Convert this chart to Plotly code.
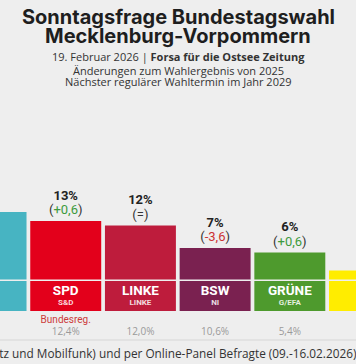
import plotly.graph_objects as go

# ---- data ----
parties = ["CDU", "SPD", "LINKE", "BSW", "GRÜNE", "FDP"]
eu_groups = ["EVP", "S&D", "LINKE", "NI", "G/EFA", "Renew"]
values = [15, 13, 12, 7, 6, 2]
changes = ["-2,8", "+0,6", "=", "-3,6", "+0,6", "-0,7"]
previous = ["17,8%", "12,4%", "12,0%", "10,6%", "5,4%", "2,7%"]
government = ["Bundesreg.", "Bundesreg.", "", "", "", ""]
colors = ["#47b4c2", "#e3001b", "#be1c3c", "#7a2150", "#4e9a2d", "#ffed00"]
name_colors = ["#ffffff", "#ffffff", "#ffffff", "#ffffff", "#ffffff", "#1a1a1a"]
group_colors = ["rgba(255,255,255,0.85)"] * 5 + ["rgba(0,0,0,0.8)"]

title_lines = ["Sonntagsfrage Bundestagswahl", "Mecklenburg-Vorpommern"]
subtitle_lines = [
    "19. Februar 2026 | <b>Forsa für die Ostsee Zeitung</b>",
    "Änderungen zum Wahlergebnis von 2025",
    "Nächster regulärer Wahltermin im Jahr 2029",
]
footnote = "1.004 telefonisch (Festnetz und Mobilfunk) und per Online-Panel Befragte (09.-16.02.2026)"

# ---- layout constants ----
W, H = 356, 364
PX_PER_UNIT = 4.5
ZERO_PX = 279.5  # pixel row of the bar baseline
def px_to_y(px):
    return (ZERO_PX - px) / PX_PER_UNIT

x = list(range(len(parties)))

def change_text(c):
    if c.startswith("+"):
        return "(<span style='color:#3d9a3d'>%s</span>)" % c
    if c.startswith("-"):
        return "(<span style='color:#cc3333'>%s</span>)" % c
    return "(%s)" % c

fig = go.Figure()

# main bars
fig.add_trace(go.Bar(
    x=x, y=values, base=0, width=0.95,
    marker=dict(color=colors, line=dict(width=0)),
    hoverinfo="skip",
))
# label boxes below baseline
box_top = px_to_y(281)
box_bottom = px_to_y(311)
fig.add_trace(go.Bar(
    x=x, y=[box_bottom - box_top] * len(x), base=[box_top] * len(x), width=0.95,
    marker=dict(color=colors, line=dict(width=0)),
    hoverinfo="skip",
))

def text_trace(ys, texts, size, color, family="Roboto"):
    fig.add_trace(go.Scatter(
        x=x, y=ys, text=texts, mode="text", textposition="middle center",
        textfont=dict(size=size, color=color, family=family),
        cliponaxis=False, hoverinfo="skip",
    ))

pct_off = 24.5 / PX_PER_UNIT
chg_off = 10 / PX_PER_UNIT
text_trace([v + pct_off for v in values], ["<b>%d%%</b>" % v for v in values], 13, "#222222")
text_trace([v + chg_off for v in values], [change_text(c) for c in changes], 13, "#333333")
text_trace([px_to_y(292)] * len(x), ["<b>%s</b>" % p for p in parties], 13.5, name_colors)
text_trace([px_to_y(303)] * len(x), ["<b>%s</b>" % g for g in eu_groups], 8, group_colors)
text_trace([px_to_y(320)] * len(x), government, 10, "#cc3b3b")
text_trace([px_to_y(332)] * len(x), previous, 10, "#9a9a9a", "Open Sans")

annotations = []
for t, ypx in zip(title_lines, [17, 36]):
    annotations.append(dict(
        text="<b>%s</b>" % t, x=0.5, y=1 - ypx / H, xref="paper", yref="paper",
        xanchor="center", yanchor="middle", showarrow=False,
        font=dict(size=20, color="#1e1e1e", family="Inter"),
    ))
for t, ypx in zip(subtitle_lines, [56, 70, 82]):
    annotations.append(dict(
        text=t, x=0.5, y=1 - ypx / H, xref="paper", yref="paper",
        xanchor="center", yanchor="middle", showarrow=False,
        font=dict(size=11, color="#333333", family="Open Sans"),
    ))
annotations.append(dict(
    text=footnote, x=1.005, y=1 - 353 / H, xref="paper", yref="paper",
    xanchor="right", yanchor="middle", showarrow=False,
    font=dict(size=11.8, color="#333333", family="Open Sans"),
))

fig.update_layout(
    width=W, height=H,
    margin=dict(l=0, r=0, t=0, b=0),
    paper_bgcolor="#eeeeee", plot_bgcolor="#eeeeee",
    barmode="overlay", showlegend=False,
    xaxis=dict(range=[0.12, 4.886], visible=False, fixedrange=True),
    yaxis=dict(range=[px_to_y(H), px_to_y(0)], visible=False, fixedrange=True),
    annotations=annotations,
    shapes=[dict(type="line", xref="paper", yref="paper", x0=0, x1=1,
                 y0=1 - 340 / H, y1=1 - 340 / H, line=dict(color="#d6d6d6", width=1))],
)

fig.write_html(
    "out.html",
    config={"displayModeBar": False},
    post_script="document.body.style.margin='0';document.body.style.background='#eeeeee';document.body.style.overflow='hidden';",
)
